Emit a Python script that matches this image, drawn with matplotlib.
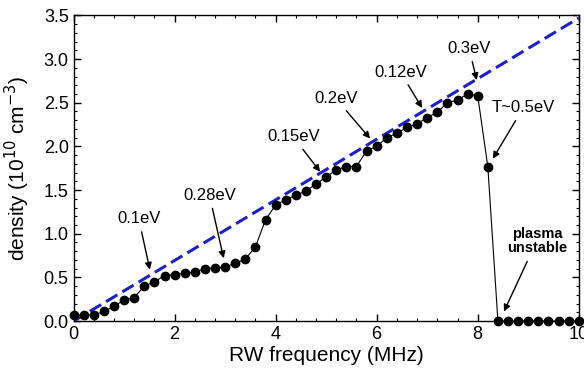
import matplotlib
matplotlib.use("Agg")
import matplotlib.pyplot as plt
import numpy as np
from matplotlib.ticker import MultipleLocator

plt.rcParams['font.family'] = ['Liberation Sans', 'DejaVu Sans']

# measured density vs RW frequency (step 0.2 MHz)
freq = np.arange(0, 10.01, 0.2)
density = [0.07, 0.07, 0.07, 0.11, 0.17, 0.24, 0.27, 0.40, 0.45, 0.52,
           0.53, 0.55, 0.56, 0.60, 0.61, 0.62, 0.66, 0.71, 0.85, 1.16,
           1.33, 1.39, 1.44, 1.49, 1.57, 1.65, 1.73, 1.77, 1.77, 1.95,
           2.00, 2.10, 2.15, 2.22, 2.26, 2.33, 2.39, 2.50, 2.53, 2.60,
           2.58, 1.77, 0.00, 0.00, 0.00, 0.00, 0.00, 0.00, 0.00, 0.00,
           0.00]

# linear guide line (dashed)
line_x = [0, 10]
line_y = [0, 3.47]

# annotations: label, text position, arrow tip
labels = ['0.1eV', '0.28eV', '0.15eV', '0.2eV', '0.12eV', '0.3eV', 'T~0.5eV']
text_pos = [(1.29, 1.17), (2.69, 1.44), (4.35, 2.11), (5.19, 2.55),
            (6.47, 2.85), (7.83, 3.12), (8.90, 2.44)]
tip_pos = [(1.51, 0.59), (2.97, 0.72), (4.88, 1.71), (5.87, 2.09),
           (6.90, 2.44), (7.98, 2.76), (8.30, 1.86)]

fig = plt.figure(figsize=(5.84, 3.76), dpi=100)
ax = fig.add_axes([0.126, 0.146, 0.865, 0.813])

ax.plot(line_x, line_y, color='#1f1fc8', lw=2.2, dashes=(4.3, 1.9), zorder=2)
ax.plot(freq, density, color='black', lw=0.8, marker='o', markersize=6,
        clip_on=False, zorder=3)

for lab, tp, hp in zip(labels, text_pos, tip_pos):
    ax.annotate(lab, xy=hp, xytext=tp, fontsize=12, ha='center', va='center',
                arrowprops=dict(arrowstyle='-|>', color='black', lw=1.0,
                                mutation_scale=10, shrinkA=2, shrinkB=0))

ax.annotate('plasma\nunstable', xy=(8.52, 0.11), xytext=(9.17, 0.92),
            fontsize=10.5, fontweight='bold', ha='center', va='center',
            linespacing=1.0,
            arrowprops=dict(arrowstyle='-|>', color='black', lw=1.0,
                            mutation_scale=10, shrinkA=3, shrinkB=0))

ax.set_xlim(0, 10)
ax.set_ylim(0, 3.5)
ax.xaxis.set_major_locator(MultipleLocator(2))
ax.xaxis.set_minor_locator(MultipleLocator(0.4))
ax.yaxis.set_major_locator(MultipleLocator(0.5))
ax.yaxis.set_minor_locator(MultipleLocator(0.1))
ax.yaxis.set_major_formatter(matplotlib.ticker.FormatStrFormatter('%.1f'))
ax.tick_params(which='both', direction='in', top=True, right=True, labelsize=13)
ax.tick_params(which='major', length=5, width=1)
ax.tick_params(which='minor', length=2.5, width=0.8)
for s in ax.spines.values():
    s.set_linewidth(1.0)

ax.set_xlabel('RW frequency (MHz)', fontsize=15, labelpad=2)
ax.set_ylabel('density (10$^{10}$ cm$^{-3}$)', fontsize=15, labelpad=8)

fig.savefig('out.png', dpi=100)
